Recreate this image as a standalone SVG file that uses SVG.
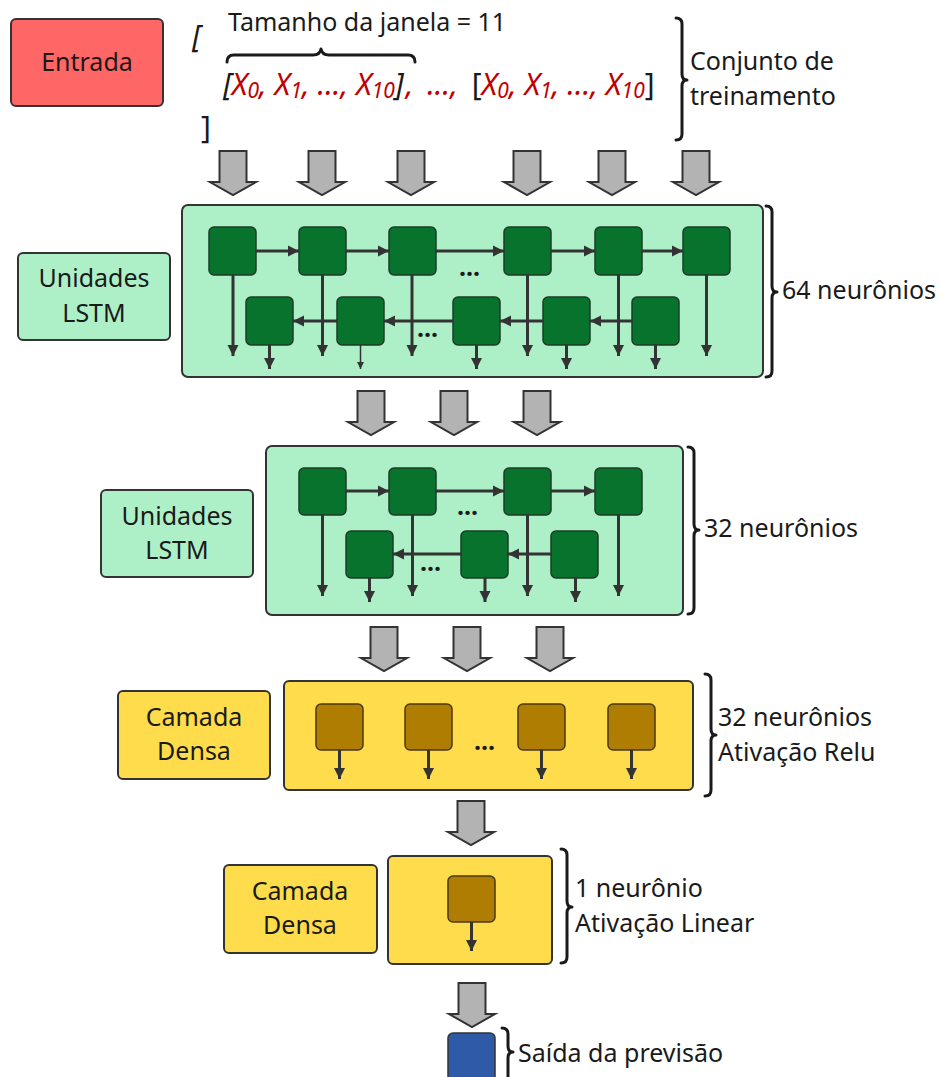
<svg xmlns="http://www.w3.org/2000/svg" width="941" height="1077" viewBox="0 0 941 1077">
<style>
text{font-family:"Noto Sans","Open Sans","DejaVu Sans",sans-serif;font-size:25px;fill:#1a1a1a}
.lbl{text-anchor:middle}
.f{font-size:30px}
.r{fill:#c00000}
.i{font-style:italic}
.sub{font-size:21px}
.box{stroke:#333;stroke-width:2}
.lstm{fill:#adf0c8}
.cell{fill:#08732c;stroke:#1f3b27;stroke-width:1.5}
.yel{fill:#ffdc4b}
.dcell{fill:#b07d03;stroke:#4a3a10;stroke-width:1.5}
.ga{fill:#b3b3b3;stroke:#333;stroke-width:2;stroke-linejoin:miter}
.ln{stroke:#333;stroke-width:3;fill:none;marker-end:url(#ah)}
.thin{stroke:#333;stroke-width:1.5;fill:none;marker-end:url(#ahs)}
.br{stroke:#1a1a1a;stroke-width:3;fill:none;stroke-linecap:round;stroke-linejoin:round}
.dots{font-size:25px;font-weight:bold}
</style>
<defs>
<marker id="ah" viewBox="0 0 10 10" refX="10" refY="5" markerWidth="3.8" markerHeight="3.8" markerUnits="strokeWidth" orient="auto">
<path d="M0,0 L10,5 L0,10 Z" fill="#333"/>
</marker>
<marker id="ahs" viewBox="0 0 10 10" refX="10" refY="5" markerWidth="5" markerHeight="5" markerUnits="strokeWidth" orient="auto">
<path d="M0,0 L10,5 L0,10 Z" fill="#333"/>
</marker>
<path id="garrow" d="M-13.5,0 H13.5 V31 H23 L0,44 L-23,31 H-13.5 Z"/>
</defs>

<!-- Input -->
<g id="entrada">
<rect class="box" x="11" y="19" width="152" height="87" rx="5" fill="#ff6666"/>
<text class="lbl" x="87" y="71">Entrada</text>
</g>

<g id="janela">
<text class="f i" x="192" y="47">[</text>
<text x="228" y="31">Tamanho da janela = 11</text>
<path class="br" d="M227,62 q0,-7 7,-7 H313 q7,0 8,-6 q1,6 8,6 H408 q7,0 7,7"/>
<text class="f" x="223" y="95"><tspan class="i">[</tspan><tspan class="r i">X</tspan><tspan class="r i sub" dy="3">0</tspan><tspan class="r i" dy="-3">, X</tspan><tspan class="r i sub" dy="3">1</tspan><tspan class="r i" dy="-3">, ..., X</tspan><tspan class="r i sub" dy="3">10</tspan><tspan class="i" dy="-3">]</tspan><tspan class="r i" dx="2">, </tspan><tspan class="r i" dx="6">..., </tspan><tspan dx="6">[</tspan><tspan class="r i">X</tspan><tspan class="r i sub" dy="3">0</tspan><tspan class="r i" dy="-3">, X</tspan><tspan class="r i sub" dy="3">1</tspan><tspan class="r i" dy="-3">, ..., X</tspan><tspan class="r i sub" dy="3">10</tspan><tspan dy="-3">]</tspan></text>
<text class="f" x="201" y="138">]</text>
</g>

<g id="conjunto">
<path class="br" d="M676,18 q6,0 6,6 V74 q0,6 5,6 q-5,0 -5,6 V134 q0,6 -6,6"/>
<text x="690" y="70">Conjunto de</text>
<text x="690" y="105">treinamento</text>
</g>

<!-- gray flow arrows -->
<g id="flow-arrows" class="ga">
<use href="#garrow" x="233" y="151"/>
<use href="#garrow" x="322" y="151"/>
<use href="#garrow" x="411" y="151"/>
<use href="#garrow" x="527" y="151"/>
<use href="#garrow" x="612" y="151"/>
<use href="#garrow" x="696" y="151"/>
<use href="#garrow" x="371" y="391"/>
<use href="#garrow" x="454" y="391"/>
<use href="#garrow" x="537" y="391"/>
<use href="#garrow" x="384" y="627"/>
<use href="#garrow" x="467" y="627"/>
<use href="#garrow" x="550" y="627"/>
<use href="#garrow" x="471" y="801"/>
<use href="#garrow" x="472" y="983"/>
</g>

<!-- LSTM layer 1 -->
<g id="lstm1-label">
<rect class="box lstm" x="18" y="253" width="152" height="87" rx="5"/>
<text class="lbl" x="94" y="287">Unidades</text>
<text class="lbl" x="94" y="322">LSTM</text>
</g>
<g id="lstm1">
<rect class="box lstm" x="182" y="205" width="581" height="172" rx="6"/>
<rect class="cell" x="209" y="227" width="47" height="48" rx="5"/>
<rect class="cell" x="299" y="227" width="47" height="48" rx="5"/>
<rect class="cell" x="389" y="227" width="47" height="48" rx="5"/>
<rect class="cell" x="504" y="227" width="47" height="48" rx="5"/>
<rect class="cell" x="595" y="227" width="47" height="48" rx="5"/>
<rect class="cell" x="683" y="227" width="47" height="48" rx="5"/>
<rect class="cell" x="246" y="297" width="47" height="48" rx="5"/>
<rect class="cell" x="337" y="297" width="47" height="48" rx="5"/>
<rect class="cell" x="453" y="297" width="47" height="48" rx="5"/>
<rect class="cell" x="543" y="297" width="47" height="48" rx="5"/>
<rect class="cell" x="632" y="297" width="47" height="48" rx="5"/>
<text class="dots" x="459" y="276">...</text>
<text class="dots" x="417" y="337">...</text>
</g>
<g id="lstm1-brace">
<path class="br" d="M766,206 q6,0 6,6 V286 q0,6 5,6 q-5,0 -5,6 V371 q0,6 -6,6"/>
<text x="782" y="299">64 neurônios</text>
</g>

<!-- LSTM layer 2 -->
<g id="lstm2-label">
<rect class="box lstm" x="101" y="490" width="152" height="87" rx="5"/>
<text class="lbl" x="177" y="525">Unidades</text>
<text class="lbl" x="177" y="559">LSTM</text>
</g>
<g id="lstm2">
<rect class="box lstm" x="266" y="446" width="417" height="169" rx="6"/>
<rect class="cell" x="299" y="468" width="47" height="47" rx="5"/>
<rect class="cell" x="389" y="468" width="47" height="47" rx="5"/>
<rect class="cell" x="504" y="468" width="47" height="47" rx="5"/>
<rect class="cell" x="595" y="468" width="47" height="47" rx="5"/>
<rect class="cell" x="346" y="531" width="47" height="47" rx="5"/>
<rect class="cell" x="461" y="531" width="47" height="47" rx="5"/>
<rect class="cell" x="551" y="531" width="47" height="47" rx="5"/>
<text class="dots" x="457" y="515">...</text>
<text class="dots" x="420" y="571">...</text>
</g>
<g id="lstm2-brace">
<path class="br" d="M688,447 q6,0 6,6 V524 q0,6 5,6 q-5,0 -5,6 V608 q0,6 -6,6"/>
<text x="704" y="537">32 neurônios</text>
</g>

<!-- Dense layer 1 -->
<g id="dense1-label">
<rect class="box yel" x="118" y="691" width="152" height="88" rx="5"/>
<text class="lbl" x="194" y="726">Camada</text>
<text class="lbl" x="194" y="760">Densa</text>
</g>
<g id="dense1">
<rect class="box yel" x="284" y="681" width="409" height="109" rx="5"/>
<rect class="dcell" x="316" y="704" width="47" height="46" rx="5"/>
<rect class="dcell" x="405" y="704" width="47" height="46" rx="5"/>
<rect class="dcell" x="518" y="704" width="47" height="46" rx="5"/>
<rect class="dcell" x="608" y="704" width="47" height="46" rx="5"/>
<text class="dots" x="474" y="750">...</text>
</g>
<g id="dense1-brace">
<path class="br" d="M705,674 q6,0 6,6 V729 q0,6 5,6 q-5,0 -5,6 V790 q0,6 -6,6"/>
<text x="718" y="726">32 neurônios</text>
<text x="718" y="761">Ativação Relu</text>
</g>

<!-- Dense layer 2 -->
<g id="dense2-label">
<rect class="box yel" x="224" y="865" width="153" height="88" rx="5"/>
<text class="lbl" x="300" y="900">Camada</text>
<text class="lbl" x="300" y="934">Densa</text>
</g>
<g id="dense2">
<rect class="box yel" x="388" y="856" width="164" height="108" rx="5"/>
<rect class="dcell" x="448" y="876" width="47" height="46" rx="5"/>
</g>
<g id="dense2-brace">
<path class="br" d="M561,849 q6,0 6,6 V901 q0,6 5,6 q-5,0 -5,6 V957 q0,6 -6,6"/>
<text x="575" y="897">1 neurônio</text>
<text x="575" y="932">Ativação Linear</text>
</g>

<!-- Output -->
<g id="saida">
<rect x="448" y="1033" width="47" height="60" rx="5" fill="#2e5aa8" stroke="#333" stroke-width="1.5"/>
</g>
<g id="saida-brace">
<path class="br" d="M502,1028 q6,0 6,6 V1046 q0,6 5,6 q-5,0 -5,6 V1090"/>
<text x="518" y="1062">Saída da previsão</text>
</g>

<!-- connectors -->
<g id="connectors">
<line class="ln" x1="256" y1="251" x2="299" y2="251"/>
<line class="ln" x1="346" y1="251" x2="389" y2="251"/>
<line class="ln" x1="436" y1="251" x2="504" y2="251"/>
<line class="ln" x1="551" y1="251" x2="595" y2="251"/>
<line class="ln" x1="642" y1="251" x2="683" y2="251"/>
<line class="ln" x1="337" y1="321" x2="293" y2="321"/>
<line class="ln" x1="453" y1="321" x2="384" y2="321"/>
<line class="ln" x1="543" y1="321" x2="500" y2="321"/>
<line class="ln" x1="632" y1="321" x2="590" y2="321"/>
<line class="ln" x1="233" y1="275" x2="233" y2="356"/>
<line class="ln" x1="322.5" y1="275" x2="322.5" y2="356"/>
<line class="ln" x1="412" y1="275" x2="412" y2="356"/>
<line class="ln" x1="527.5" y1="275" x2="527.5" y2="356"/>
<line class="ln" x1="618.5" y1="275" x2="618.5" y2="356"/>
<line class="ln" x1="706.5" y1="275" x2="706.5" y2="356"/>
<line class="ln" x1="269.5" y1="345" x2="269.5" y2="369"/>
<line class="thin" x1="360.5" y1="345" x2="360.5" y2="369"/>
<line class="ln" x1="476.5" y1="345" x2="476.5" y2="369"/>
<line class="ln" x1="566.5" y1="345" x2="566.5" y2="369"/>
<line class="ln" x1="655.5" y1="345" x2="655.5" y2="369"/>
<line class="ln" x1="346" y1="491" x2="389" y2="491"/>
<line class="ln" x1="436" y1="491" x2="504" y2="491"/>
<line class="ln" x1="551" y1="491" x2="595" y2="491"/>
<line class="ln" x1="461" y1="554" x2="393" y2="554"/>
<line class="ln" x1="551" y1="554" x2="508" y2="554"/>
<line class="ln" x1="322.5" y1="515" x2="322.5" y2="596"/>
<line class="ln" x1="412.5" y1="515" x2="412.5" y2="596"/>
<line class="ln" x1="527.5" y1="515" x2="527.5" y2="596"/>
<line class="ln" x1="618.5" y1="515" x2="618.5" y2="596"/>
<line class="ln" x1="369.5" y1="578" x2="369.5" y2="602"/>
<line class="ln" x1="485" y1="578" x2="485" y2="602"/>
<line class="ln" x1="575.5" y1="578" x2="575.5" y2="602"/>
<line class="ln" x1="339.5" y1="750" x2="339.5" y2="779"/>
<line class="ln" x1="428.5" y1="750" x2="428.5" y2="779"/>
<line class="ln" x1="541.5" y1="750" x2="541.5" y2="779"/>
<line class="ln" x1="631.5" y1="750" x2="631.5" y2="779"/>
<line class="ln" x1="471.5" y1="922" x2="471.5" y2="951"/>
</g>
</svg>
